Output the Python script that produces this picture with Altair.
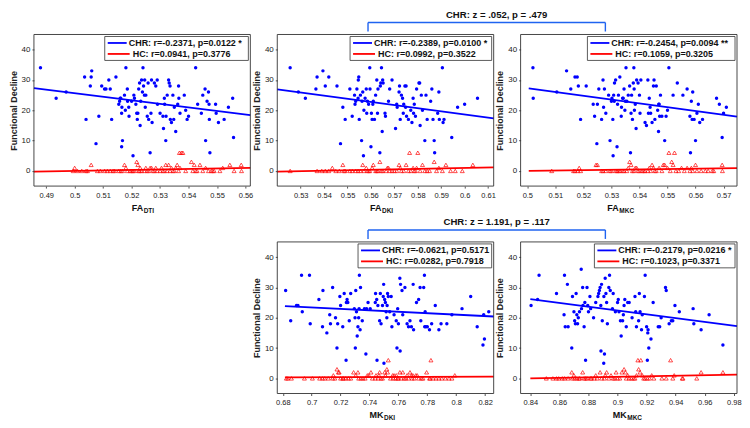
import altair as alt
import pandas as pd

FONT = "Liberation Sans"
BLUE = "#0000ff"
RED = "#ff0000"
BRACKET = "#1f63f0"
W, H = 217, 152
SP = 27          # gap between plot areas
VSP = 56
YDOM = [-5, 45]
YTICKS = [0, 10, 20, 30, 40]

# ---------------- Panel 1: FA_DTI ----------------
P1_XDOM = [0.4857, 0.5617]
P1_XTICKS = [0.49, 0.5, 0.51, 0.52, 0.53, 0.54, 0.55, 0.56]
P1_CHR = [(0.488, 34), (0.4935, 24), (0.497, 26), (0.5035, 31), (0.504, 17), (0.5055, 28), (0.5058, 31),
          (0.506, 33), (0.5075, 9), (0.5085, 18), (0.5095, 28), (0.5105, 27), (0.511, 27), (0.512, 30),
          (0.5125, 27), (0.513, 17), (0.5145, 31), (0.5155, 22), (0.5158, 23), (0.516, 24), (0.5162, 24),
          (0.5165, 19), (0.5166, 21), (0.5165, 8), (0.5168, 10), (0.5175, 25), (0.5178, 20), (0.518, 34),
          (0.5185, 27), (0.5186, 23), (0.519, 21), (0.5191, 18), (0.520, 23), (0.5205, 5), (0.5208, 25),
          (0.521, 24), (0.5215, 22), (0.5218, 19), (0.522, 17), (0.5222, 19), (0.5225, 27), (0.5228, 29),
          (0.523, 15), (0.5232, 23), (0.5235, 30), (0.524, 34), (0.5238, 26), (0.5242, 28), (0.5245, 25),
          (0.5246, 30), (0.5248, 21), (0.525, 25), (0.5255, 18), (0.5258, 29), (0.526, 17), (0.5265, 6),
          (0.5268, 19), (0.527, 30), (0.5272, 16), (0.528, 29), (0.5285, 28), (0.529, 30), (0.5291, 22),
          (0.530, 19), (0.531, 18), (0.5312, 14), (0.5315, 24), (0.5316, 22), (0.532, 10), (0.5321, 18),
          (0.5325, 25), (0.533, 30), (0.5332, 29), (0.5335, 28), (0.5336, 17), (0.534, 16), (0.5345, 25),
          (0.5348, 17), (0.5355, 13), (0.535, 21), (0.5362, 22), (0.5365, 28), (0.5366, 24), (0.537, 19),
          (0.5385, 25), (0.539, 20), (0.5395, 17), (0.540, 18), (0.5425, 34), (0.5432, 22), (0.5445, 19),
          (0.545, 25), (0.5458, 27), (0.546, 10), (0.5465, 23), (0.547, 26), (0.5472, 22), (0.5473, 17),
          (0.5475, 6), (0.5495, 22), (0.5497, 19), (0.5505, 16), (0.5525, 17), (0.554, 21), (0.5555, 24),
          (0.5558, 11)]
P1_HC = [(0.4995, 0), (0.5, 1), (0.501, 0), (0.5025, 0), (0.504, 0), (0.5045, 0), (0.5058, 2), (0.508, 0),
         (0.509, 0), (0.5105, 0), (0.5115, 0), (0.5125, 0), (0.5135, 0), (0.514, 0), (0.5155, 0), (0.5162, 0),
         (0.5168, 0), (0.5175, 2), (0.518, 1), (0.5185, 0), (0.5195, 0), (0.520, 0), (0.5205, 0), (0.521, 0),
         (0.5218, 3), (0.5222, 2), (0.5225, 0), (0.5228, 0), (0.523, 1), (0.5235, 0), (0.5245, 0), (0.525, 1),
         (0.5255, 0), (0.526, 0), (0.5265, 1), (0.527, 1), (0.5275, 0), (0.528, 0), (0.5285, 1), (0.529, 0),
         (0.530, 0), (0.5305, 1), (0.531, 0), (0.5315, 0), (0.532, 2), (0.5325, 0), (0.533, 2), (0.5335, 0),
         (0.534, 1), (0.5345, 0), (0.535, 0), (0.5355, 1), (0.536, 2), (0.5365, 0), (0.5368, 6), (0.537, 1),
         (0.5375, 6), (0.538, 6), (0.539, 0), (0.541, 3), (0.5415, 0), (0.542, 2), (0.5425, 0), (0.543, 0),
         (0.544, 2), (0.545, 0), (0.546, 1), (0.547, 0), (0.548, 0), (0.5485, 0), (0.549, 0), (0.551, 0),
         (0.552, 1), (0.5545, 2), (0.556, 0), (0.5585, 2), (0.5586, 0)]
P1_CHR_LINE = [(0.4857, 27.3), (0.5617, 18.4)]
P1_HC_LINE = [(0.4857, -0.2), (0.5617, 1.0)]

# ---------------- Panel 2: FA_DKI ----------------
P2_XDOM = [0.5200, 0.6124]
P2_XTICKS = [0.53, 0.54, 0.55, 0.56, 0.57, 0.58, 0.59, 0.6, 0.61]
P2_CHR = [(0.5255, 34), (0.529, 26), (0.532, 24), (0.5365, 27), (0.537, 31), (0.5395, 33), (0.5405, 28),
          (0.542, 31), (0.5455, 28), (0.547, 9), (0.548, 21), (0.549, 17), (0.551, 27), (0.552, 18),
          (0.553, 25), (0.5532, 22), (0.5535, 23), (0.554, 27), (0.5545, 24), (0.5546, 30), (0.5548, 31),
          (0.555, 17), (0.5555, 25), (0.556, 10), (0.5562, 23), (0.5565, 26), (0.5568, 5), (0.557, 20),
          (0.5575, 24), (0.558, 27), (0.5582, 19), (0.5585, 23), (0.559, 22), (0.5595, 34), (0.5596, 27),
          (0.560, 8), (0.5602, 19), (0.5605, 17), (0.5608, 22), (0.561, 23), (0.5615, 17), (0.562, 25),
          (0.5625, 30), (0.5628, 19), (0.563, 27), (0.5638, 6), (0.564, 28), (0.5642, 29), (0.5645, 34),
          (0.565, 30), (0.5648, 13), (0.5652, 29), (0.566, 19), (0.5662, 18), (0.5675, 23), (0.568, 27),
          (0.569, 30), (0.5705, 14), (0.571, 22), (0.5712, 21), (0.572, 26), (0.5722, 28), (0.5725, 17),
          (0.573, 25), (0.5735, 24), (0.5738, 19), (0.574, 22), (0.5745, 28), (0.5748, 21), (0.575, 28),
          (0.5752, 18), (0.576, 17), (0.577, 20), (0.5775, 16), (0.578, 24), (0.5782, 19), (0.5785, 22),
          (0.579, 18), (0.5795, 27), (0.5805, 29), (0.5808, 29), (0.581, 15), (0.5815, 25), (0.582, 20),
          (0.583, 10), (0.5835, 25), (0.584, 17), (0.5855, 23), (0.586, 27), (0.5865, 17), (0.587, 10),
          (0.5872, 6), (0.5885, 19), (0.589, 26), (0.5892, 17), (0.5905, 34), (0.5908, 16), (0.5912, 17),
          (0.5945, 11), (0.597, 21), (0.6, 22), (0.6055, 24)]
P2_HC = [(0.5255, 0), (0.537, 0), (0.539, 0), (0.5405, 0), (0.542, 0), (0.5435, 1), (0.545, 0), (0.5465, 0),
         (0.548, 2), (0.5485, 0), (0.549, 0), (0.551, 0), (0.552, 0), (0.5535, 0), (0.5545, 0), (0.5555, 0),
         (0.5565, 2), (0.557, 0), (0.558, 1), (0.5585, 0), (0.559, 0), (0.5595, 0), (0.5605, 1), (0.561, 2),
         (0.562, 0), (0.5625, 0), (0.563, 0), (0.5638, 3), (0.5645, 0), (0.565, 0), (0.5665, 0), (0.567, 1),
         (0.5675, 1), (0.568, 0), (0.569, 0), (0.570, 0), (0.571, 0), (0.572, 2), (0.5725, 1), (0.573, 0),
         (0.574, 0), (0.575, 2), (0.576, 0), (0.5765, 6), (0.577, 0), (0.578, 1), (0.5785, 0), (0.579, 0),
         (0.5795, 1), (0.580, 6), (0.581, 0), (0.582, 2), (0.583, 0), (0.584, 0), (0.585, 0), (0.587, 3),
         (0.588, 0), (0.589, 1), (0.5905, 0), (0.592, 2), (0.594, 0), (0.596, 0), (0.599, 0), (0.6035, 2)]
P2_CHR_LINE = [(0.5200, 26.9), (0.6124, 17.3)]
P2_HC_LINE = [(0.5200, -0.2), (0.6124, 1.2)]

# ---------------- Panel 3: FA_MKC ----------------
P3_XDOM = [0.4976, 0.5748]
P3_XTICKS = [0.5, 0.51, 0.52, 0.53, 0.54, 0.55, 0.56, 0.57]
P3_CHR = [(0.502, 34), (0.5021, 24), (0.5105, 26), (0.514, 33), (0.5155, 27), (0.517, 31), (0.5178, 31),
          (0.5182, 28), (0.519, 17), (0.521, 28), (0.5235, 22), (0.524, 18), (0.5248, 9), (0.525, 22),
          (0.5255, 27), (0.5265, 17), (0.527, 30), (0.5272, 21), (0.5275, 27), (0.528, 19), (0.529, 25),
          (0.5295, 10), (0.530, 23), (0.5302, 24), (0.5305, 17), (0.5306, 5), (0.5308, 25), (0.531, 23),
          (0.5311, 29), (0.5315, 30), (0.532, 8), (0.5322, 22), (0.5325, 25), (0.533, 31), (0.5335, 18),
          (0.5336, 21), (0.534, 24), (0.5342, 24), (0.5345, 27), (0.5348, 20), (0.535, 23), (0.5352, 34),
          (0.5355, 23), (0.536, 25), (0.5365, 28), (0.5368, 6), (0.537, 19), (0.5372, 25), (0.5375, 17),
          (0.5378, 29), (0.538, 34), (0.5381, 27), (0.5382, 20), (0.5385, 22), (0.5388, 14), (0.539, 30),
          (0.5395, 29), (0.540, 25), (0.5402, 19), (0.5405, 30), (0.542, 16), (0.5425, 15), (0.543, 30),
          (0.5432, 19), (0.5435, 24), (0.5438, 21), (0.544, 19), (0.5445, 16), (0.545, 28), (0.5452, 30),
          (0.5455, 17), (0.546, 28), (0.5465, 20), (0.5468, 13), (0.5469, 22), (0.547, 22), (0.5472, 18),
          (0.5475, 25), (0.548, 18), (0.549, 10), (0.5495, 18), (0.550, 20), (0.5505, 34), (0.552, 25),
          (0.5535, 29), (0.5555, 25), (0.557, 27), (0.558, 18), (0.5582, 6), (0.5585, 23), (0.5588, 17),
          (0.559, 26), (0.5595, 17), (0.560, 10), (0.5605, 19), (0.561, 22), (0.5615, 16), (0.5625, 17),
          (0.5675, 24), (0.5685, 22), (0.5695, 11), (0.570, 19), (0.571, 21)]
P3_HC = [(0.5087, 0), (0.5165, 0), (0.517, 0), (0.518, 0), (0.5185, 1), (0.519, 0), (0.5245, 2), (0.525, 2),
         (0.5265, 0), (0.527, 0), (0.528, 0), (0.5295, 0), (0.530, 0), (0.5315, 0), (0.532, 0), (0.5325, 0),
         (0.533, 0), (0.534, 0), (0.5345, 0), (0.5355, 0), (0.536, 1), (0.5365, 3), (0.537, 2), (0.5375, 0),
         (0.538, 0), (0.5385, 1), (0.539, 1), (0.5395, 0), (0.540, 0), (0.541, 0), (0.5415, 0), (0.542, 0),
         (0.543, 0), (0.5435, 1), (0.544, 0), (0.5445, 2), (0.545, 1), (0.5455, 0), (0.546, 0), (0.547, 1),
         (0.548, 0), (0.5485, 2), (0.549, 2), (0.550, 1), (0.5505, 6), (0.551, 0), (0.5515, 3), (0.552, 2),
         (0.5525, 6), (0.553, 0), (0.554, 0), (0.555, 1), (0.556, 0), (0.557, 1), (0.558, 0), (0.5585, 1),
         (0.559, 0), (0.560, 2), (0.5605, 0), (0.562, 0), (0.5635, 0), (0.5645, 0), (0.566, 0), (0.5665, 0),
         (0.5695, 2), (0.5696, 0)]
P3_CHR_LINE = [(0.5005, 27.2), (0.5748, 17.9)]
P3_HC_LINE = [(0.5005, 0.0), (0.5748, 0.9)]

# ---------------- Panel 4: MK_DKI ----------------
P4_XDOM = [0.6762, 0.8259]
P4_XTICKS = [0.68, 0.7, 0.72, 0.74, 0.76, 0.78, 0.8, 0.82]
P4_CHR = [(0.682, 29), (0.6855, 19), (0.6895, 24), (0.6905, 24), (0.693, 34), (0.6935, 22), (0.6985, 34),
          (0.699, 18), (0.705, 26), (0.7075, 17), (0.7078, 29), (0.7105, 15), (0.7125, 21), (0.713, 18),
          (0.7145, 30), (0.7165, 20), (0.7175, 10), (0.718, 18), (0.7195, 27), (0.720, 24), (0.7215, 17),
          (0.7225, 28), (0.7238, 6), (0.724, 25), (0.7245, 26), (0.725, 25), (0.726, 19), (0.727, 28),
          (0.7295, 23), (0.730, 20), (0.7302, 10), (0.7305, 29), (0.731, 22), (0.7315, 14), (0.732, 17),
          (0.7325, 20), (0.7328, 23), (0.733, 34), (0.7335, 16), (0.7338, 30), (0.735, 19), (0.7365, 23),
          (0.7375, 8), (0.738, 23), (0.739, 25), (0.7405, 23), (0.744, 25), (0.7442, 28), (0.745, 26),
          (0.7452, 6), (0.7458, 24), (0.747, 19), (0.7475, 28), (0.748, 18), (0.749, 24), (0.7495, 27),
          (0.7498, 31), (0.750, 5), (0.7505, 26), (0.751, 25), (0.7515, 22), (0.752, 20), (0.7522, 24),
          (0.7525, 28), (0.753, 27), (0.754, 22), (0.755, 27), (0.7555, 17), (0.757, 21), (0.7585, 19),
          (0.759, 10), (0.7595, 23), (0.760, 18), (0.761, 33), (0.7612, 9), (0.7615, 31), (0.7625, 29),
          (0.763, 21), (0.7645, 30), (0.766, 18), (0.767, 17), (0.768, 19), (0.769, 17), (0.7702, 31),
          (0.7705, 16), (0.7725, 25), (0.774, 26), (0.775, 30), (0.7755, 19), (0.7775, 30), (0.778, 34),
          (0.7782, 17), (0.7785, 22), (0.779, 17), (0.780, 17), (0.7815, 16), (0.783, 18), (0.7855, 24),
          (0.788, 16), (0.7895, 18), (0.7935, 18), (0.797, 21), (0.804, 23), (0.810, 27), (0.8145, 17),
          (0.8185, 11), (0.8195, 13), (0.819, 21), (0.8225, 22)]
P4_HC = [(0.6825, 0), (0.6835, 0), (0.686, 0), (0.695, 0), (0.7005, 0), (0.7055, 0), (0.7075, 0), (0.709, 0),
         (0.7115, 0), (0.7145, 0), (0.715, 1), (0.716, 0), (0.7175, 3), (0.7185, 2), (0.719, 2), (0.720, 0),
         (0.7215, 0), (0.722, 0), (0.7235, 0), (0.7255, 0), (0.727, 0), (0.729, 2), (0.7305, 1), (0.732, 2),
         (0.7325, 0), (0.734, 0), (0.7355, 0), (0.737, 0), (0.7385, 1), (0.7395, 1), (0.741, 2), (0.742, 0),
         (0.744, 0), (0.7445, 1), (0.746, 0), (0.7465, 1), (0.747, 2), (0.748, 0), (0.749, 0), (0.7505, 2),
         (0.751, 1), (0.752, 3), (0.7525, 2), (0.753, 6), (0.7545, 0), (0.756, 1), (0.7565, 0), (0.757, 1),
         (0.758, 0), (0.7585, 1), (0.7595, 0), (0.760, 0), (0.761, 2), (0.762, 0), (0.763, 2), (0.764, 0),
         (0.765, 0), (0.766, 1), (0.767, 0), (0.768, 2), (0.769, 1), (0.7695, 0), (0.770, 1), (0.771, 0),
         (0.772, 1), (0.773, 1), (0.774, 0), (0.776, 0), (0.777, 0), (0.7795, 2), (0.7815, 0), (0.7825, 6),
         (0.782, 0), (0.784, 0), (0.786, 0), (0.788, 0), (0.790, 0), (0.7925, 0), (0.795, 0), (0.797, 0),
         (0.799, 1)]
P4_CHR_LINE = [(0.6815, 23.8), (0.8259, 20.4)]
P4_HC_LINE = [(0.6815, 0.3), (0.8259, 0.6)]

# ---------------- Panel 5: MK_MKC ----------------
P5_XDOM = [0.8333, 0.9822]
P5_XTICKS = [0.84, 0.86, 0.88, 0.9, 0.92, 0.94, 0.96, 0.98]
P5_CHR = [(0.8405, 24), (0.845, 26), (0.846, 34), (0.858, 28), (0.8632, 21), (0.8635, 34), (0.864, 17),
          (0.8655, 31), (0.866, 17), (0.8685, 10), (0.869, 27), (0.870, 22), (0.8705, 19), (0.871, 18),
          (0.8715, 28), (0.872, 21), (0.8725, 18), (0.873, 20), (0.8738, 22), (0.875, 36), (0.8752, 23),
          (0.876, 30), (0.8762, 24), (0.877, 17), (0.8775, 25), (0.878, 6), (0.879, 30), (0.8795, 24),
          (0.880, 22), (0.881, 27), (0.8815, 23), (0.8835, 20), (0.885, 25), (0.8865, 27), (0.887, 28),
          (0.8875, 29), (0.888, 30), (0.8885, 24), (0.8886, 9), (0.889, 31), (0.8895, 19), (0.8905, 5),
          (0.8906, 27), (0.891, 8), (0.8915, 33), (0.892, 28), (0.8925, 25), (0.893, 18), (0.894, 30),
          (0.8945, 34), (0.895, 29), (0.8965, 23), (0.897, 28), (0.8985, 22), (0.900, 25), (0.9005, 26),
          (0.901, 22), (0.902, 19), (0.9025, 14), (0.9035, 19), (0.904, 21), (0.9045, 24), (0.905, 26),
          (0.906, 17), (0.907, 25), (0.908, 25), (0.910, 20), (0.912, 27), (0.9125, 22), (0.913, 17),
          (0.9145, 19), (0.915, 28), (0.9155, 22), (0.9165, 16), (0.917, 21), (0.9185, 27), (0.919, 34),
          (0.920, 17), (0.9205, 6), (0.9208, 15), (0.921, 16), (0.9215, 10), (0.923, 13), (0.9245, 25),
          (0.928, 17), (0.929, 17), (0.930, 20), (0.933, 30), (0.9335, 29), (0.9355, 18), (0.937, 19),
          (0.938, 19), (0.9395, 24), (0.9425, 22), (0.952, 23), (0.9525, 18), (0.9575, 16), (0.963, 21),
          (0.9725, 11)]
P5_HC = [(0.851, 0), (0.8555, 0), (0.858, 0), (0.8595, 0), (0.862, 0), (0.8635, 0), (0.866, 0), (0.8685, 2),
         (0.869, 0), (0.870, 1), (0.8705, 0), (0.872, 0), (0.8735, 0), (0.874, 0), (0.876, 2), (0.877, 0),
         (0.878, 0), (0.879, 0), (0.8815, 0), (0.882, 0), (0.884, 0), (0.885, 1), (0.886, 0), (0.888, 2),
         (0.889, 0), (0.891, 0), (0.8915, 1), (0.8925, 2), (0.894, 0), (0.8955, 1), (0.897, 0), (0.898, 0),
         (0.899, 2), (0.900, 0), (0.9015, 0), (0.903, 2), (0.9045, 3), (0.9055, 2), (0.906, 0), (0.907, 1),
         (0.908, 0), (0.9095, 0), (0.911, 0), (0.912, 0), (0.913, 1), (0.914, 6), (0.9145, 3), (0.9155, 2),
         (0.916, 6), (0.917, 1), (0.918, 0), (0.919, 0), (0.9205, 0), (0.922, 0), (0.9235, 1), (0.925, 0),
         (0.9305, 0), (0.9335, 0), (0.9365, 6), (0.938, 0), (0.939, 1), (0.9445, 0), (0.945, 0), (0.9545, 0),
         (0.9575, 2), (0.9725, 2)]
P5_CHR_LINE = [(0.8400, 26.1), (0.9822, 17.2)]
P5_HC_LINE = [(0.8400, 0.0), (0.9822, 1.2)]

# ---------------- Text ----------------
LEGENDS = [
    ("CHR: r=-0.2371, p=0.0122 *", "HC: r=0.0941, p=0.3776"),
    ("CHR: r=-0.2389, p=0.0100 *", "HC: r=0.0992, p=0.3522"),
    ("CHR: r=-0.2454, p=0.0094 **", "HC: r=0.1059, p=0.3205"),
    ("CHR: r=-0.0621, p=0.5171", "HC: r=0.0282, p=0.7918"),
    ("CHR: r=-0.2179, p=0.0216 *", "HC: r=0.1023, p=0.3371"),
]
LEGEND_W = [144, 142, 148, 134, 141]
XLABELS = [("FA", "DTI"), ("FA", "DKI"), ("FA", "MKC"), ("MK", "DKI"), ("MK", "MKC")]
XLABEL_OFF = [1, -4, -10, -2, -2]
COMPARISONS = ["CHR: z = .052, p = .479", "CHR: z = 1.191, p = .117"]

ONE = pd.DataFrame({"a": [0]})


def txt(s, x, y, size, weight="bold", align="left", color="#111", baseline="middle"):
    return alt.Chart(ONE).mark_text(
        text=s, align=align, baseline=baseline, fontSize=size, fontWeight=weight,
        font=FONT, color=color
    ).encode(x=alt.value(x), y=alt.value(y))


def hrule(x1, x2, y, color, sw):
    return alt.Chart(ONE).mark_rule(color=color, strokeWidth=sw).encode(
        x=alt.value(x1), x2=alt.value(x2), y=alt.value(y))


def vrule(x, y1, y2, color, sw):
    return alt.Chart(ONE).mark_rule(color=color, strokeWidth=sw).encode(
        x=alt.value(x), y=alt.value(y1), y2=alt.value(y2))


def rect(x1, x2, y1, y2, fill, fill_op, stroke, sw):
    return alt.Chart(ONE).mark_rect(
        fill=fill, fillOpacity=fill_op, stroke=stroke, strokeWidth=sw
    ).encode(x=alt.value(x1), x2=alt.value(x2), y=alt.value(y1), y2=alt.value(y2))


def panel(i, chr_pts, hc_pts, chr_line, hc_line, xdom, xticks, comparison=None):
    xs = alt.Scale(domain=xdom, nice=False, zero=False)
    ys = alt.Scale(domain=YDOM, nice=False, zero=False)
    xa = alt.Axis(values=xticks, format="~g", title=None, grid=False, domain=False,
                  tickSize=2, labelFontSize=7.5, labelPadding=3, labelColor="#222",
                  tickColor="#555", labelFlush=False, labelOverlap=False,
                  labelFont=FONT)
    ya = alt.Axis(values=YTICKS, title="Functional Decline", grid=False, domain=False,
                  tickSize=2, labelFontSize=8, labelPadding=2, labelColor="#222",
                  tickColor="#555", titleFontSize=9, titleFontWeight="bold",
                  titlePadding=3, titleColor="#222", labelOverlap=False,
                  labelFont=FONT, titleFont=FONT)
    X = alt.X("x:Q", scale=xs, axis=xa)
    Y = alt.Y("y:Q", scale=ys, axis=ya)

    chr_df = pd.DataFrame(chr_pts, columns=["x", "y"])
    hc_df = pd.DataFrame(hc_pts, columns=["x", "y"])
    chr_l = pd.DataFrame(chr_line, columns=["x", "y"])
    hc_l = pd.DataFrame(hc_line, columns=["x", "y"])

    blue = alt.Chart(chr_df).mark_circle(size=12, color=BLUE, opacity=1).encode(x=X, y=Y)
    red = alt.Chart(hc_df).mark_point(shape="triangle-up", filled=False, size=16,
                                      color=RED, strokeWidth=0.7, opacity=1).encode(x=X, y=Y)
    bl = alt.Chart(chr_l).mark_line(color=BLUE, strokeWidth=1.8).encode(x=X, y=Y)
    rl = alt.Chart(hc_l).mark_line(color=RED, strokeWidth=1.8).encode(x=X, y=Y)

    lc, lh = LEGENDS[i]
    x0 = W - 2 - LEGEND_W[i]
    layers = [
        red, blue, rl, bl,
        rect(x0, W - 2, 2, 26, "white", 1, "#333", 0.8),
        hrule(x0 + 3, x0 + 22, 8.5, BLUE, 1.8),
        hrule(x0 + 3, x0 + 25, 19.5, RED, 1.8),
        txt(lc, x0 + 24, 8.5, 9),
        txt(lh, x0 + 28, 19.5, 9),
        rect(0, W, 0, H, "white", 0, "#333", 0.9),
    ]
    main, sub = XLABELS[i]
    cx = W / 2 + XLABEL_OFF[i]
    layers.append(txt(main, cx, H + 22, 9, align="right"))
    layers.append(txt(sub, cx + 0.5, H + 25, 6.5, align="left"))

    if comparison is not None:
        bx1, bx2 = 91, W + SP + 85
        layers += [
            hrule(bx1, bx2, -12, BRACKET, 1.4),
            vrule(bx1, -12, -3, BRACKET, 1.4),
            vrule(bx2, -12, -3, BRACKET, 1.4),
            txt(comparison, 220, -20, 9.6, align="center", color="#111"),
        ]
    return alt.layer(*layers).properties(width=W, height=H)


p1 = panel(0, P1_CHR, P1_HC, P1_CHR_LINE, P1_HC_LINE, P1_XDOM, P1_XTICKS)
p2 = panel(1, P2_CHR, P2_HC, P2_CHR_LINE, P2_HC_LINE, P2_XDOM, P2_XTICKS, COMPARISONS[0])
p3 = panel(2, P3_CHR, P3_HC, P3_CHR_LINE, P3_HC_LINE, P3_XDOM, P3_XTICKS)
p4 = panel(3, P4_CHR, P4_HC, P4_CHR_LINE, P4_HC_LINE, P4_XDOM, P4_XTICKS, COMPARISONS[1])
p5 = panel(4, P5_CHR, P5_HC, P5_CHR_LINE, P5_HC_LINE, P5_XDOM, P5_XTICKS)

spacer = alt.Chart(ONE).mark_point(opacity=0).encode(
    x=alt.value(0), y=alt.value(0)).properties(width=W, height=H)

chart = alt.ConcatChart(
    concat=[p1, p2, p3, spacer, p4, p5],
    columns=3,
    spacing=alt.RowColnumber(row=VSP, column=SP),
    bounds="flush",
).properties(
    padding=0, background="white"
).configure_view(stroke="transparent")

chart.save("out.html", embed_options={"renderer": "svg", "actions": False})
